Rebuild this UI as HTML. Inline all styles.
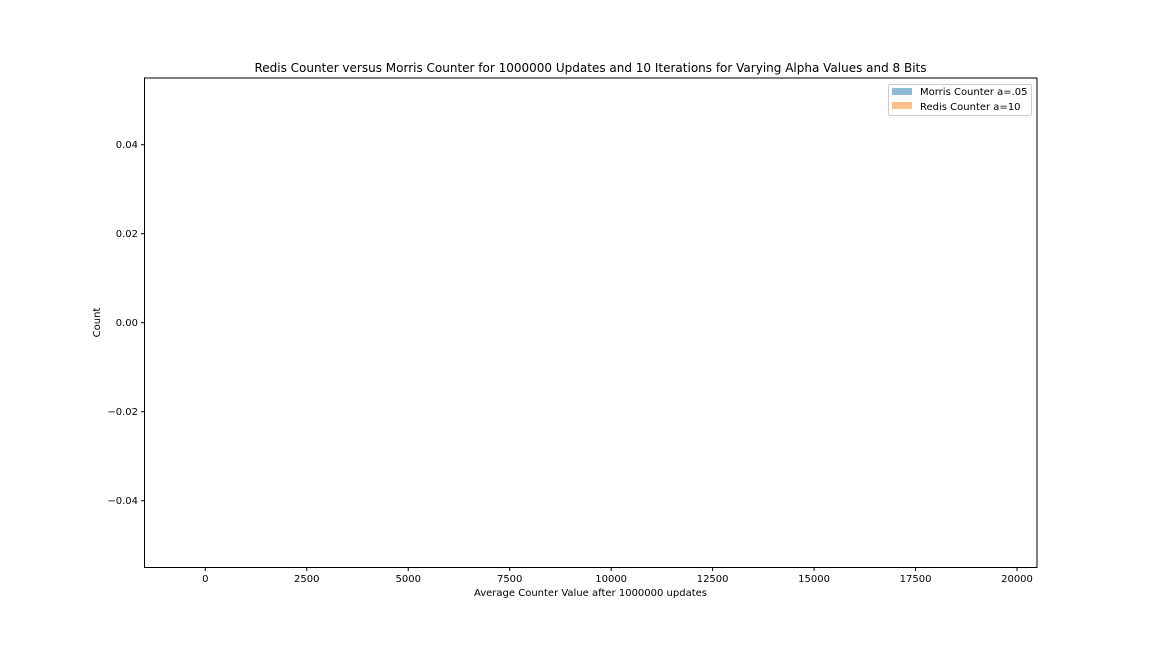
<!DOCTYPE html>
<html><head><meta charset="utf-8"><style>
body{margin:0;background:#fff;font-family:"DejaVu Sans","Liberation Sans",sans-serif;}
svg text{font-family:"DejaVu Sans","Liberation Sans",sans-serif;fill:#000;}
</style></head><body>
<svg id="chart" width="1152" height="648" xmlns="http://www.w3.org/2000/svg">
<rect width="1152" height="648" fill="#fff"/>
<text x="590.5" y="72" font-size="12" text-anchor="middle">Redis Counter versus Morris Counter for 1000000 Updates and 10 Iterations for Varying Alpha Values and 8 Bits</text>
<g id="marks"></g>
<rect x="144.5" y="78" width="892.5" height="489.5" fill="none" stroke="#000" stroke-width="1"/>
<g id="xt"></g><g id="yt"></g>
<text x="590.5" y="596" font-size="10" text-anchor="middle">Average Counter Value after 1000000 updates</text>
<text x="100" y="322.5" font-size="10" text-anchor="middle" transform="rotate(-90 100 322.5)">Count</text>
<g>
<rect x="888.5" y="84.5" width="143" height="31" rx="2" fill="#fff" stroke="#ccc"/>
<rect x="892" y="88" width="20" height="7" fill="#1f77b4" fill-opacity="0.5"/>
<text x="920" y="95" font-size="10">Morris Counter a=.05</text>
<rect x="892" y="102" width="20" height="7" fill="#ff7f0e" fill-opacity="0.5"/>
<text x="920" y="110" font-size="10">Redis Counter a=10</text>
</g>
</svg>
<script>
const xTicks=[0,2500,5000,7500,10000,12500,15000,17500,20000];
const yTicks=[0.04,0.02,0.00,-0.02,-0.04];
const yTickLabels=["0.04","0.02","0.00","\u22120.02","\u22120.04"];
const morrisValues=[];
const redisValues=[];
const NS="http://www.w3.org/2000/svg";
function xs(v){return 205.3+(v-0)*(1017-205.3)/20000;}
function ys(v){return 322.7-v*4450;}
const xt=document.getElementById('xt'),yt=document.getElementById('yt');
xTicks.forEach(t=>{
 const l=document.createElementNS(NS,'line');
 
 
 l.setAttribute('x1',xs(t));l.setAttribute('x2',xs(t));l.setAttribute('y1',567.5);l.setAttribute('y2',571);l.setAttribute('stroke','#000');
 xt.appendChild(l);
 const tx=document.createElementNS(NS,'text');
 
 
 tx.setAttribute('x',xs(t));tx.setAttribute('y',582);tx.setAttribute('font-size','10');tx.setAttribute('text-anchor','middle');
 tx.textContent=String(t);xt.appendChild(tx);
});
yTicks.forEach((t,i)=>{
 const l=document.createElementNS(NS,'line');
 
 
 l.setAttribute('x1',141);l.setAttribute('x2',144.5);l.setAttribute('y1',ys(t));l.setAttribute('y2',ys(t));l.setAttribute('stroke','#000');
 yt.appendChild(l);
 const tx=document.createElementNS(NS,'text');
 
 
 tx.setAttribute('x',138);tx.setAttribute('y',ys(t)+3.5);tx.setAttribute('font-size','10');tx.setAttribute('text-anchor','end');
 tx.textContent=yTickLabels[i];yt.appendChild(tx);
});
const marks=document.getElementById('marks');
[[morrisValues,'#1f77b4'],[redisValues,'#ff7f0e']].forEach(([vals,c])=>{
 vals.forEach(v=>{
  const r=document.createElementNS(NS,'rect');
  
  
  r.setAttribute('x',xs(v[0]));r.setAttribute('width',Math.max(1,xs(v[1])-xs(v[0])));
  r.setAttribute('y',ys(v[2]));r.setAttribute('height',ys(0)-ys(v[2]));
  r.setAttribute('fill',c);r.setAttribute('fill-opacity','0.5');
  marks.appendChild(r);
 });
});
</script>
</body></html>
